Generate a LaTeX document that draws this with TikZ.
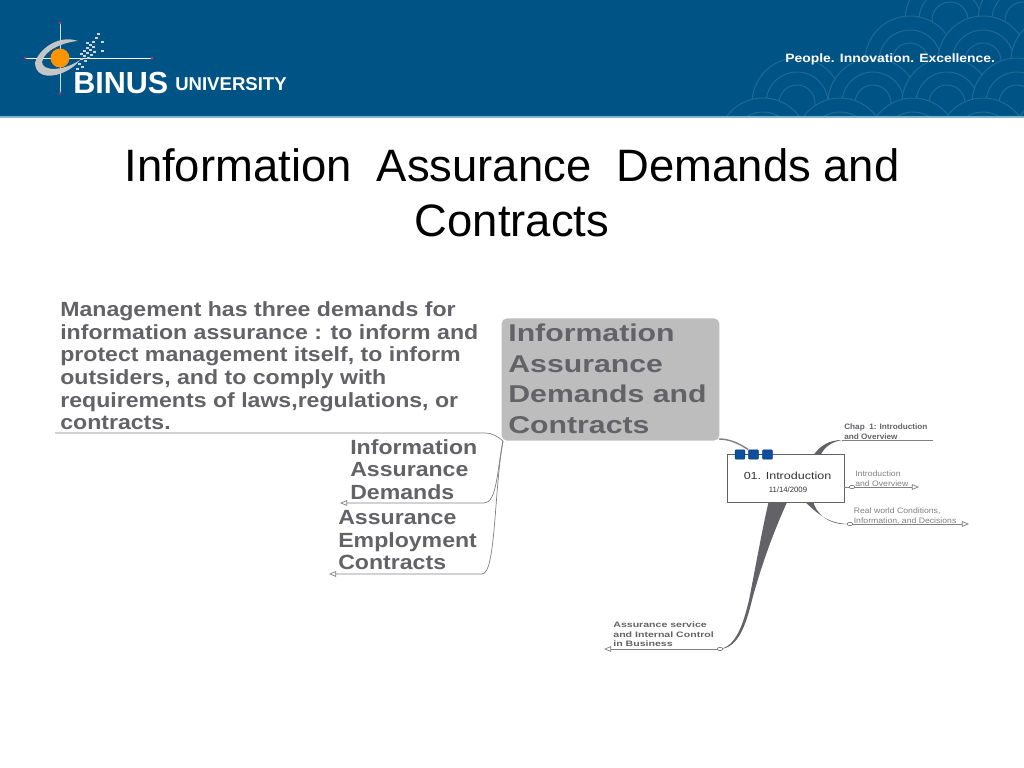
\documentclass[tikz,border=0pt]{standalone}
\usepackage{fontspec}
\setmainfont{Liberation Sans}
\usetikzlibrary{arrows.meta,shapes.geometric}
\definecolor{headblue}{HTML}{005385}
\definecolor{headline}{HTML}{1F6A97}
\definecolor{headedge}{HTML}{7FB6D2}
\definecolor{inkgray}{HTML}{636367}
\definecolor{topicgray}{HTML}{BDBDBD}
\definecolor{tabblue}{HTML}{0B4F9E}
\definecolor{pinmark}{HTML}{A33A62}
\tikzset{
    px/.style={x=0.025cm,y=-0.025cm},
    bigtext/.style={font=\fontsize{14.6}{16.1}\selectfont\bfseries,text=inkgray,align=left,inner sep=0pt,anchor=north west,xscale=1.125},
    smalltext/.style={font=\fontsize{5.6}{6.8}\selectfont,text=inkgray,align=left,inner sep=0pt,anchor=north west,xscale=1.1},
    branch/.style={draw=gray,line width=0.5pt},
    openend/.style={-{Triangle[open,length=5pt,width=4pt]}},
    knob/.style={draw=inkgray,fill=white,ellipse,minimum width=4pt,minimum height=2.4pt,inner sep=0pt},
    tabbox/.style={draw=tabblue!70!black,fill=tabblue,rounded corners=0.6pt,minimum width=7pt,minimum height=6.5pt,inner sep=0pt},
}
\begin{document}
\begin{tikzpicture}[px]
    \useasboundingbox (0,0) rectangle (1024,768);
    \fill[white] (0,0) rectangle (1024,768);
    % header band
    \fill[headblue] (0,0) rectangle (1024,116);
    \fill[headedge] (0,116) rectangle (1024,118);
    \begin{scope}
        \clip (700,0) rectangle (1024,116);
        % scales, upper rows first so that the lower ones cover them
        \foreach \cx/\cy in {950/20,1023/20,910/61,983/61,1056/61,797/103,873/103,947/103,1017/103,763/143,840/143,913/143,983/143,1056/143} {
            \fill[headblue] (\cx,\cy) circle (45);
            \foreach \r in {45,31,18} {
                \draw[headline,line width=0.7pt] (\cx,\cy) circle (\r);
            }
        }
    \end{scope}
    \node[font=\fontsize{8.6}{10}\selectfont\bfseries,text=white,anchor=west,inner sep=0pt,xscale=1.15] (slogan) at (785,59) {People. Innovation. Excellence.};
    % logo
    \draw[white,line width=0.7pt] (25,58) -- (152,58);
    \draw[white!80!headblue,line width=0.7pt] (60,23) -- (60,93);
    \fill[pinmark] (25,58) circle (1.6) (152,58) circle (1.6) (60,23) circle (1.6) (60,93) circle (1.6);
    \fill[gray!45] (35,63) .. controls (38,50) and (58,34) .. (78,41)
        .. controls (64,42) and (44,50) .. (42,62) .. controls (42,71) and (62,72) .. (80,60)
        .. controls (68,76) and (36,84) .. (35,63) -- cycle;
    \fill[orange!85!yellow] (60,58) circle (9.5);
    \foreach \dx/\dy in {80/58,83/55,86/52,89/49,92/46,80/53,83/50,86/47,89/44,92/41,84/60,87/57,90/54,93/51,78/63,81/66,76/68,95/37,101/41,97/33,101/50,86/42} {
        \fill[gray!35] (\dx,\dy) rectangle +(2.5,2.5);
    }
    \node[font=\fontsize{21.7}{22}\selectfont\bfseries,text=white,anchor=west,inner sep=0pt] (binus) at (73,83) {BINUS};
    \node[font=\fontsize{13.2}{14}\selectfont\bfseries,text=white,anchor=west,inner sep=0pt] (univ) at (175,84) {UNIVERSITY};
    % title
    \node[font=\fontsize{32.3}{39.2}\selectfont,align=center,inner sep=0pt] (title) at (512,193) {Information\ \ Assurance\ \ Demands and\\Contracts};
    % central topic
    \node[fill=topicgray,rounded corners=4pt,minimum width=155pt,minimum height=87pt,inner sep=0pt] (topic) at (610.5,379.5) {};
    \node[bigtext,font=\fontsize{17.3}{21.6}\selectfont\bfseries,xscale=1.105] (topictext) at (508,324) {Information\\Assurance\\Demands and\\Contracts};
    % left branch texts
    \node[bigtext] (mgmt) at (60,301.5) {Management has three demands for\\information assurance : to inform and\\protect management itself, to inform\\outsiders, and to comply with\\requirements of laws,regulations, or\\contracts.};
    \node[bigtext] (demands) at (350,439) {Information\\Assurance\\Demands};
    \node[bigtext] (contracts) at (338,510) {Assurance\\Employment\\Contracts};
    % left branches
    \coordinate (hub) at (503,441);
    \coordinate (mgmtend) at (55,433);
    \coordinate (demandsend) at (340,503);
    \coordinate (contractsend) at (329,574);
    \draw[branch] (hub) .. controls (497,436) and (492,433) .. (485,433) -- (mgmtend);
    \draw[branch,openend] (hub) .. controls (497,470) and (497,503) .. (484,503) -- (demandsend);
    \draw[branch,openend] (hub) .. controls (494,490) and (496,574) .. (482,574) -- (contractsend);
    % intro box connectors
    \coordinate (chapjoin) at (842,440);
    \coordinate (chapend) at (933,440);
    \coordinate (realjoin) at (850,524);
    \coordinate (realend) at (969,524);
    \coordinate (introjoin) at (852,487);
    \coordinate (introend) at (919,487);
    \coordinate (assurejoin) at (720,649);
    \coordinate (assureend) at (604,649);
    \fill[inkgray] (813,456) .. controls (820,445) and (830,440) .. (chapjoin) .. controls (832,442) and (825,446) .. (820,456) -- cycle;
    \draw[branch] (chapjoin) -- (chapend);
    \fill[inkgray] (803,500) .. controls (818,514) and (828,524) .. (realjoin) .. controls (830,526) and (815,514) .. (813,500) -- cycle;
    \draw[branch,openend] (realjoin) -- (realend);
    \draw[branch,openend] (introjoin) -- (introend);
    \fill[inkgray] (769,500) -- (788,500) .. controls (772,535) and (760,570) .. (752,600) .. controls (746,625) and (738,648) .. (assurejoin) .. controls (736,646) and (743,625) .. (749,600) .. controls (755,570) and (762,530) .. (769,500) -- cycle;
    \draw[branch,openend] (assurejoin) -- (assureend);
    % intro box
    \node[draw=inkgray,fill=white,minimum width=83pt,minimum height=34pt,inner sep=0pt] (introbox) at (785.5,478) {};
    \draw[branch] (introbox.east |- introjoin) -- (introjoin);
    \node[font=\fontsize{7.3}{9}\selectfont,text=black!80,inner sep=0pt,xscale=1.22] (introtext) at (787.5,476) {01. Introduction};
    \node[font=\fontsize{5.5}{6}\selectfont,text=black!80,inner sep=0pt] (introdate) at (788,490) {11/14/2009};
    \node[tabbox] (taba) at (740,454.5) {};
    \node[tabbox] (tabb) at (753.5,454.5) {};
    \node[tabbox] (tabc) at (767.5,454.5) {};
    \draw[tabblue] (taba) -- (tabb);
    \draw[tabblue] (tabb) -- (tabc);
    \draw[gray,line width=1pt] (719,439) .. controls (730,439) and (740,444) .. (tabb.north west);
    % knobs on the joins
    \node[knob] (knoba) at (introjoin) {};
    \node[knob] (knobb) at (realjoin) {};
    \node[knob] (knobc) at (assurejoin) {};
    % right branch texts
    \node[smalltext,font=\fontsize{5.6}{6.8}\selectfont\bfseries,xscale=0.945] (chap) at (844,424) {Chap\ \ 1: Introduction\\and Overview};
    \node[smalltext,text=gray] (introover) at (855,470.5) {Introduction\\and Overview};
    \node[smalltext,text=gray] (realworld) at (853.5,507.5) {Real world Conditions,\\Information, and Decisions};
    \node[smalltext,font=\fontsize{5.6}{6.9}\selectfont\bfseries,xscale=1.22] (assure) at (613,621.5) {Assurance service\\and Internal Control\\in Business};
\end{tikzpicture}
\end{document}
